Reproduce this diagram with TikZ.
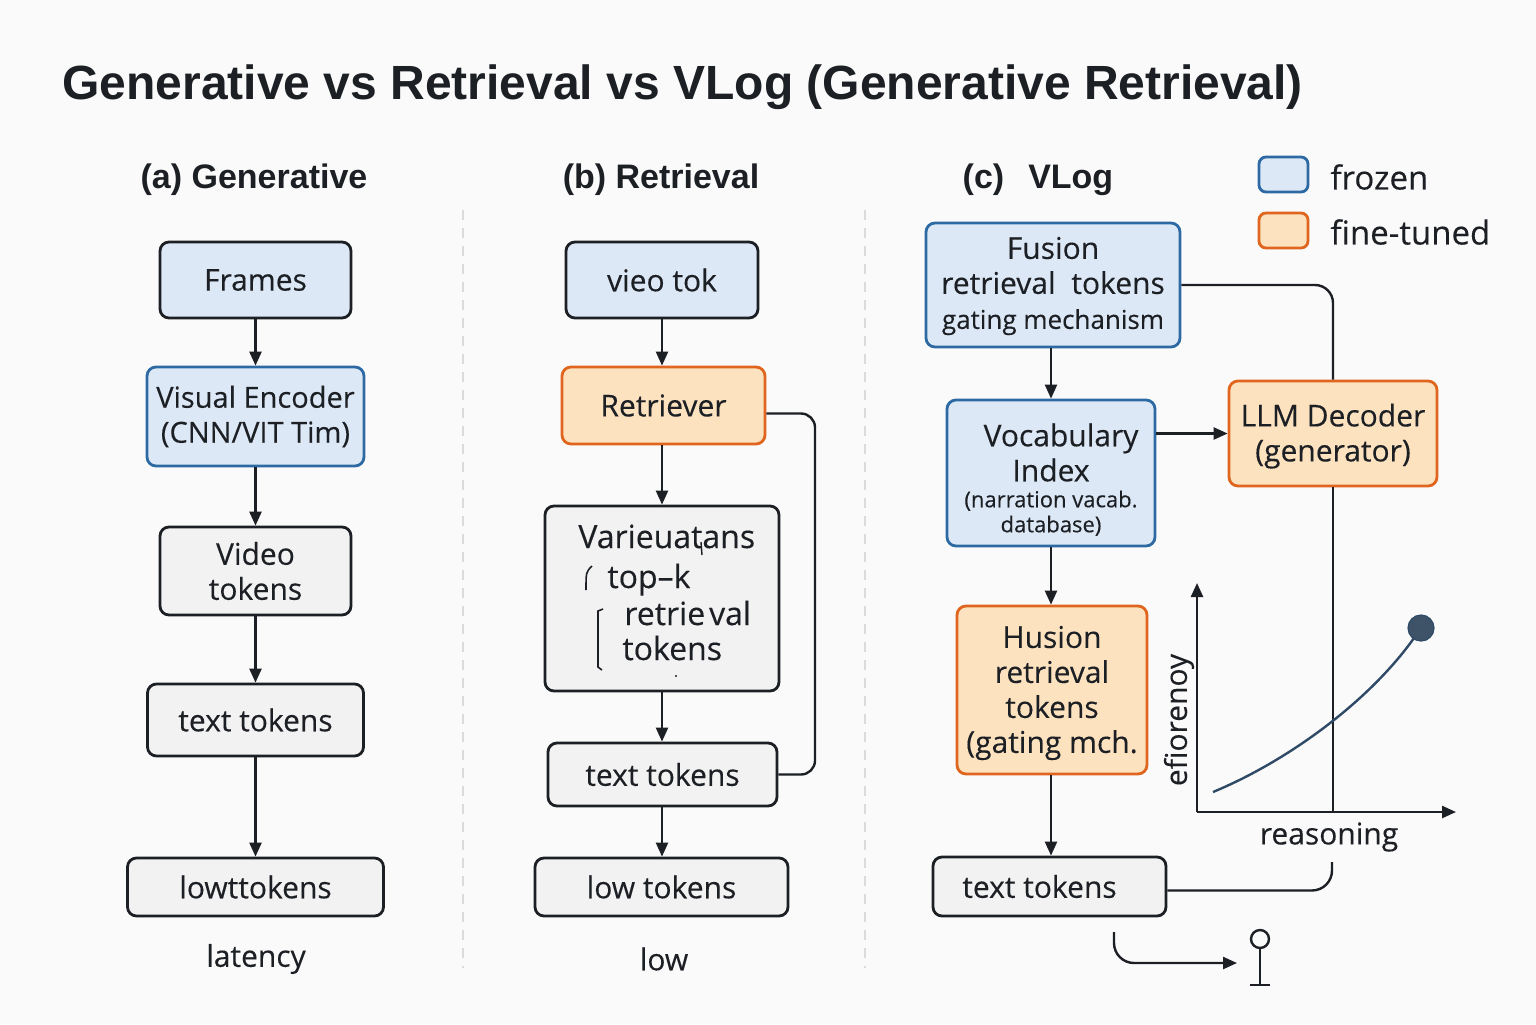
\documentclass[tikz,border=0pt]{standalone}
\usepackage{fontspec}
\usetikzlibrary{arrows.meta,calc}
\setmainfont{Open Sans}[FakeBold=0.25]
\newfontfamily\titlef{Liberation Sans}
\definecolor{bg}{HTML}{FAFAFA}
\definecolor{ink}{HTML}{1C1F24}
\definecolor{bluefill}{HTML}{DCE8F5}
\definecolor{bluedraw}{HTML}{2D6AA3}
\definecolor{orfill}{HTML}{FDE2BF}
\definecolor{ordraw}{HTML}{E0651E}
\definecolor{grfill}{HTML}{F2F2F2}
\definecolor{sepc}{HTML}{DADADA}
\definecolor{curvec}{HTML}{2E4A66}
\definecolor{dotc}{HTML}{3E5368}
\tikzset{
  box/.style={draw=ink, line width=1.4pt, rounded corners=4.5pt, align=center, inner sep=0pt, text=ink,
    font=\fontsize{15}{17.5}\selectfont},
  bluebox/.style={box, fill=bluefill, draw=bluedraw},
  darkblue/.style={box, fill=bluefill},
  orbox/.style={box, fill=orfill, draw=ordraw},
  graybox/.style={box, fill=grfill},
  conn/.style={draw=ink, line width=1.2pt},
  arr/.style={conn, -{Triangle[length=7pt,width=6pt]}},
  lbl/.style={text=ink, inner sep=0pt, font=\fontsize{15}{17.5}\selectfont},
  head/.style={text=ink, inner sep=0pt, font=\titlef\bfseries\fontsize{17}{20}\selectfont},
  sep/.style={draw=sepc, line width=1pt, dashed, dash pattern=on 5pt off 4pt},
}
\begin{document}
\begin{tikzpicture}[x=0.5pt,y=-0.5pt]
\fill[bg] (0,0) rectangle (1536,1024);
\useasboundingbox (0,0) rectangle (1536,1024);

% title
\node[anchor=base west, text=ink, inner sep=0pt, font=\titlef\bfseries\fontsize{24}{28}\selectfont] (title) at (62,99) {Generative vs Retrieval vs VLog (Generative Retrieval)};

% headers
\node[head] (ha) at (254,180) {(a) Generative};
\node[head] (hb) at (661,180) {(b) Retrieval};
\node[head] (hc) at (1038,180) {(c)\hspace{12pt}VLog};

% separators
\coordinate (s1a) at (463,210); \coordinate (s1b) at (463,968);
\coordinate (s2a) at (865,210); \coordinate (s2b) at (865,968);
\draw[sep] (s1a) -- (s1b);
\draw[sep] (s2a) -- (s2b);

% legend
\node[bluebox, minimum width=24.5pt, minimum height=17.5pt, rounded corners=3.5pt] (lf) at (1283.5,174.5) {};
\node[lbl, anchor=west, font=\fontsize{16.5}{19}\selectfont] (lft) at (1330,177) {frozen};
\node[orbox, minimum width=24.5pt, minimum height=17.5pt, rounded corners=3.5pt] (lo) at (1283.5,230.5) {};
\node[lbl, anchor=west, font=\fontsize{16.5}{19}\selectfont] (lot) at (1330,232) {fine-tuned};

% (a) column
\node[darkblue, minimum width=95.5pt, minimum height=38pt] (a1) at (255.5,280) {Frames};
\node[bluebox, minimum width=108.5pt, minimum height=49.5pt, font=\fontsize{14.5}{17.5}\selectfont] (a2) at (255.5,416.5) {Visual Encoder\\(CNN/VIT Tim)};
\node[graybox, minimum width=95.5pt, minimum height=44pt] (a3) at (255.5,571) {Video\\tokens};
\node[graybox, minimum width=108pt, minimum height=36pt] (a4) at (255.5,720) {text tokens};
\node[graybox, minimum width=128pt, minimum height=29pt] (a5) at (255.5,887) {lowttokens};
\node[lbl] (la) at (256,959) {latency};
\draw[arr] (a1) -- (a2);
\draw[arr] (a2) -- (a3);
\draw[arr] (a3) -- (a4);
\draw[arr] (a4) -- (a5);

% (b) column
\node[darkblue, minimum width=96pt, minimum height=38pt] (b1) at (662,280) {vieo tok};
\node[orbox, minimum width=101.5pt, minimum height=38.5pt] (b2) at (663.5,405.5) {Retriever};
\node[graybox, minimum width=117pt, minimum height=92.5pt] (b3) at (662,598.5) {};
\node[lbl, anchor=base west, font=\fontsize{16}{19}\selectfont] (b3t1) at (578,548) {Varieuatans};
\node[lbl, anchor=base west, font=\fontsize{16}{19}\selectfont] (b3t2) at (607,588) {top\textendash k};
\node[lbl, anchor=base west, font=\fontsize{16}{19}\selectfont] (b3t3) at (624,625) {retrie\hspace{2pt}val};
\node[lbl, anchor=base west, font=\fontsize{16}{19}\selectfont] (b3t4) at (622,660) {tokens};
\draw[ink, line width=0.8pt] (592,566) .. controls (586,572) .. (586,590);
\draw[ink, line width=0.8pt] (603,609) -- (598,611) -- (598,667) -- (602,670);
\draw[ink, line width=0.7pt] (701,542) -- (702,555);
\fill[ink] (676,676) circle (0.6pt);
\node[graybox, minimum width=114.5pt, minimum height=31.5pt] (b4) at (662.5,774.5) {text tokens};
\node[graybox, minimum width=126.5pt, minimum height=29pt] (b5) at (661.5,887) {low tokens};
\node[lbl] (lb) at (664,959) {low};
\draw[arr] (b1.south) -- (b1.south |- b2.north);
\draw[arr] (b1.south |- b2.south) -- (b1.south |- b3.north);
\draw[arr] (b1.south |- b3.south) -- (b1.south |- b4.north);
\draw[arr] (b1.south |- b4.south) -- (b1.south |- b5.north);
\coordinate (fb) at (815,0);
\draw[conn, rounded corners=7pt] ([yshift=-4pt]b2.east) -| (fb |- b4.east) -- (b4.east);

% (c) column
\node[bluebox, minimum width=127pt, minimum height=62pt] (c1) at (1053,285) {\rule{0pt}{12pt}Fusion\\retrieval\hspace{4pt} tokens\\{\fontsize{13}{17.5}\selectfont gating mechanism}};
\node[bluebox, minimum width=104pt, minimum height=73pt, align=center] (c2) at (1051,473) {\rule{0pt}{18pt}\hspace{10pt}Vocabulary\\Index\\[-4.5pt]{\fontsize{11}{12.5}\selectfont (narration vacab.}\\[-5pt]{\fontsize{11}{12.5}\selectfont database)}};
\node[orbox, minimum width=104pt, minimum height=52.5pt] (c3) at (1333,433.5) {\rule{0pt}{14pt}LLM Decoder\\(generator)};
\node[orbox, minimum width=95pt, minimum height=84pt] (c4) at (1052,690) {\rule{0pt}{14pt}Husion\\retrieval\\tokens\\(gating mch.};
\node[graybox, minimum width=116.5pt, minimum height=29.5pt] (c5) at (1049.5,886.5) {text tokens\hspace{10pt}};
\draw[arr] (c1.south -| c2.north) -- (c2.north);
\draw[arr] (c2.east |- c3.west) -- (c3.west);
\draw[arr] (c2.south) -- (c2.south |- c4.north);
\draw[arr] (c2.south |- c4.south) -- (c2.south |- c5.north);
\draw[conn, rounded corners=9pt] (c1.east) -| (c3.north);

% chart
\coordinate (O) at (1197,812);
\coordinate (ytop) at (1197,583);
\coordinate (xend) at (1456,812);
\draw[arr] (O) -- (ytop);
\draw[arr] (O) -- (xend);
\draw[conn] (c3.south) -- (c3.south |- O);
\node[lbl, rotate=90] (eff) at (1179,720) {efiorenoy};
\node[lbl] (rs) at (1329,837) {reasoning};
\coordinate (cs) at (1213,792);
\coordinate (ce) at (1414,638);
\draw[curvec, line width=1.2pt] (cs) .. controls (1290,760) and (1370,700) .. (ce);
\node[circle, fill=dotc, draw=curvec, line width=0.6pt, minimum size=13pt, inner sep=0pt] (dot) at (1421,628) {};
\coordinate (rl) at (1332,862);
\draw[conn, rounded corners=10pt] (rl) |- ([yshift=-2pt]c5.east);

% bottom marks
\coordinate (m1) at (1114,932);
\coordinate (m2) at (1237,963);
\draw[arr, rounded corners=10pt] (m1) |- (m2);
\node[circle, draw=ink, line width=1.2pt, minimum size=9pt, inner sep=0pt] (pin) at (1260,939) {};
\coordinate (pb) at (1260,985);
\draw[conn] (pin.south) -- (pb);
\draw[conn] ([xshift=-5pt]pb) -- ([xshift=5pt]pb);
\end{tikzpicture}
\end{document}
